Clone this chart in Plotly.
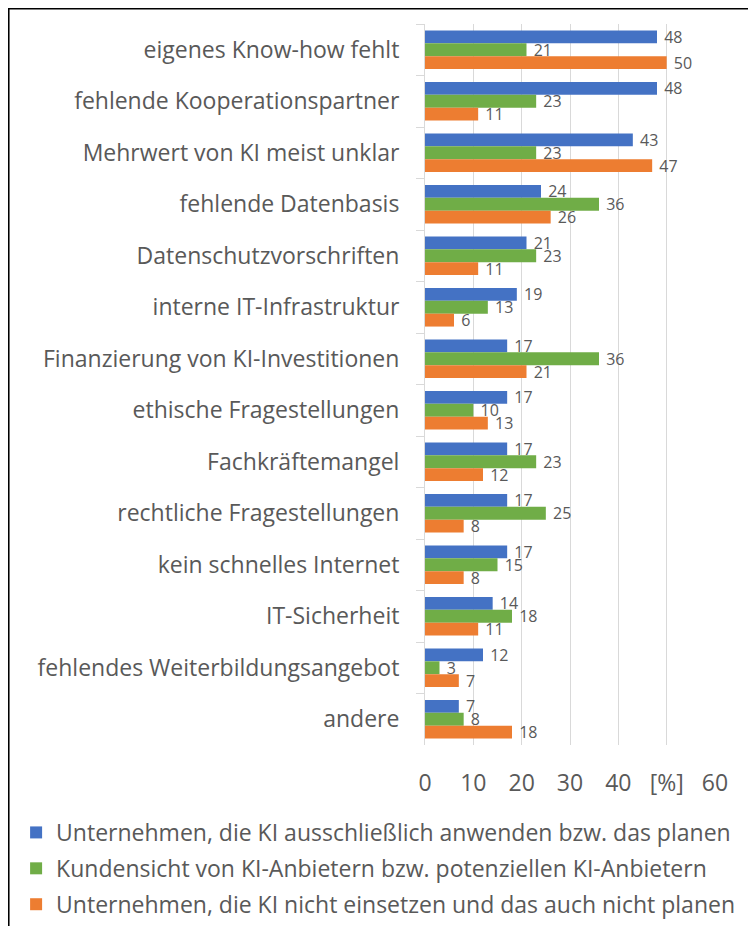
import plotly.graph_objects as go

categories = [
    "eigenes Know-how fehlt",
    "fehlende Kooperationspartner",
    "Mehrwert von KI meist unklar",
    "fehlende Datenbasis",
    "Datenschutzvorschriften",
    "interne IT-Infrastruktur",
    "Finanzierung von KI-Investitionen",
    "ethische Fragestellungen",
    "Fachkräftemangel",
    "rechtliche Fragestellungen",
    "kein schnelles Internet",
    "IT-Sicherheit",
    "fehlendes Weiterbildungsangebot",
    "andere",
]
anwender = [48, 48, 43, 24, 21, 19, 17, 17, 17, 17, 17, 14, 12, 7]
kundensicht = [21, 23, 23, 36, 23, 13, 36, 10, 23, 25, 15, 18, 3, 8]
nicht_einsetzen = [50, 11, 47, 26, 11, 6, 21, 13, 12, 8, 8, 11, 7, 18]

series_names = [
    "Unternehmen, die KI ausschließlich anwenden bzw. das planen",
    "Kundensicht von KI-Anbietern bzw. potenziellen KI-Anbietern",
    "Unternehmen, die KI nicht einsetzen und das auch nicht planen",
]
colors = ["#4472C4", "#70AD47", "#ED7D31"]

tick_vals = [0, 10, 20, 30, 40, 50, 60]
tick_text = ["0", "10", "20", "30", "40", "[%]", "60"]

FONT = "Open Sans"
GRAY = "#595959"

fig = go.Figure()
for i, (name, vals) in enumerate(zip(series_names, [anwender, kundensicht, nicht_einsetzen])):
    fig.add_trace(go.Bar(
        y=categories, x=vals, orientation="h", name=name,
        marker=dict(color=colors[i], line=dict(width=0)),
        text=["\u00a0" + str(v) for v in vals],
        textposition="outside", constraintext="none", cliponaxis=False,
        textfont=dict(family=FONT, size=16, color=GRAY),
        legendgroup=f"g{i}",
    ))

fig.update_layout(
    width=748, height=918,
    margin=dict(l=417, r=41, t=16, b=181, autoexpand=False),
    barmode="group", bargap=0.25, bargroupgap=0,
    plot_bgcolor="white", paper_bgcolor="white",
    font=dict(family=FONT, color=GRAY),
    showlegend=True,
    legend=dict(
        orientation="v", x=-1.41, xanchor="left", y=-0.0915, yanchor="top",
        font=dict(family=FONT, size=23, color=GRAY),
        bgcolor="rgba(0,0,0,0)",
        tracegroupgap=3, itemwidth=30, traceorder="grouped",
    ),
    shapes=[dict(
        type="rect", xref="paper", yref="paper",
        x0=-1.436, x1=2.0, y0=-1.0, y1=1.0215,
        line=dict(color="black", width=2), fillcolor="rgba(0,0,0,0)",
    )],
)
fig.update_xaxes(
    range=[0, 60], tickvals=tick_vals, ticktext=tick_text,
    showgrid=True, gridcolor="#D9D9D9", gridwidth=1,
    zeroline=False, showline=False, ticks="",
    tickfont=dict(family=FONT, size=23, color=GRAY),
    ticklabelstandoff=22,
)
fig.update_yaxes(
    autorange="reversed", type="category",
    showline=True, linecolor="#D9D9D9", linewidth=1,
    ticks="outside", tickson="boundaries", ticklen=8, tickcolor="#D9D9D9",
    tickfont=dict(family=FONT, size=23, color=GRAY),
    ticklabelstandoff=20, showgrid=False,
)

fig.write_html("out.html")
